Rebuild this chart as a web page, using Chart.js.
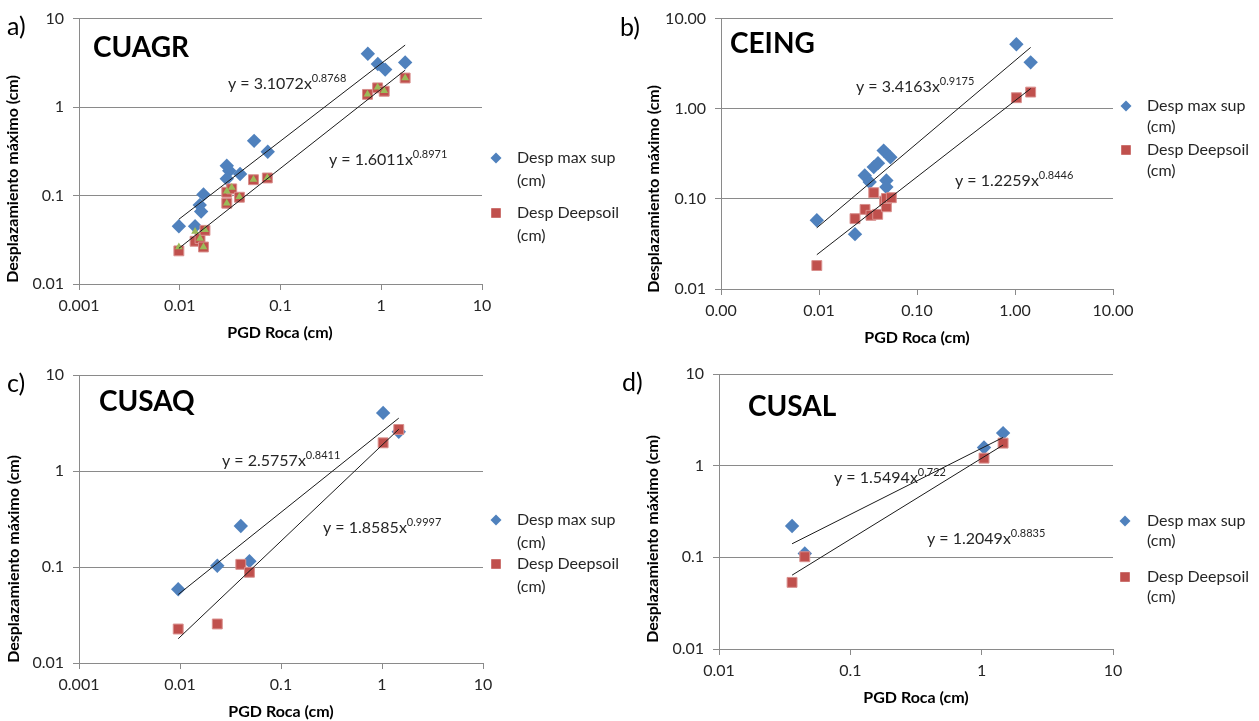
<!DOCTYPE html>
<html><head><meta charset="utf-8">
<script src="https://cdn.jsdelivr.net/npm/chart.js@4/dist/chart.umd.min.js"></script>
<style>
html,body{margin:0;padding:0;background:#fff;width:1259px;height:721px;overflow:hidden;}
canvas{position:absolute;}
</style></head><body>
<canvas id="ca" width="630" height="350" style="left:0;top:0"></canvas>
<canvas id="cb" width="659" height="350" style="left:600px;top:0"></canvas>
<canvas id="cc" width="630" height="366" style="left:0;top:355px"></canvas>
<canvas id="cd" width="659" height="366" style="left:600px;top:355px"></canvas>
<script>
// ---- tick values / labels ----
const ticksDecA = [0.001, 0.01, 0.1, 1, 10];
const ticksDecA_lbl = ['0.001', '0.01', '0.1', '1', '10'];
const ticksDecB_lbl = ['0.00', '0.01', '0.10', '1.00', '10.00'];
const ticksDecY = [0.01, 0.1, 1, 10];
const ticksDecY_lbl = ['0.01', '0.1', '1', '10'];
const ticksDecYB_lbl = ['0.01', '0.10', '1.00', '10.00'];
const ticksDecD = [0.01, 0.1, 1, 10];
const ticksDecD_lbl = ['0.01', '0.1', '1', '10'];

const seriesNames = ['Desp max sup', 'Desp Deepsoil'];

// ---- a) CUAGR ----
const cuagrSup = [[0.0098,0.045],[0.0142,0.045],[0.0158,0.078],[0.0163,0.066],[0.0172,0.103],[0.0293,0.217],[0.031,0.19],[0.0293,0.155],[0.0397,0.175],[0.0547,0.415],[0.0747,0.312],[0.736,4.01],[0.925,3.07],[1.094,2.65],[1.727,3.2]];
const cuagrDeep = [[0.0098,0.0237],[0.0142,0.0304],[0.0159,0.0326],[0.0178,0.0404],[0.0172,0.0262],[0.0293,0.109],[0.0328,0.119],[0.0293,0.0819],[0.0391,0.0957],[0.0539,0.151],[0.074,0.158],[0.73,1.39],[0.92,1.65],[1.07,1.51],[1.727,2.13]];
const cuagrTri = [[0.0098,0.0262],[0.0142,0.0392],[0.0159,0.0326],[0.0178,0.0411],[0.0172,0.0262],[0.0293,0.112],[0.0328,0.123],[0.0293,0.082],[0.0391,0.097],[0.0539,0.152],[0.074,0.159],[0.73,1.4],[0.92,1.67],[1.07,1.53],[1.727,2.13]];
const cuagrSupTrend = [[0.0098,0.0539],[1.727,5.02]];
const cuagrDeepTrend = [[0.0098,0.0253],[1.727,2.614]];

// ---- b) CEING ----
const ceingSup = [[0.0095,0.058],[0.0233,0.0406],[0.0293,0.182],[0.0329,0.154],[0.0362,0.225],[0.040,0.249],[0.0457,0.343],[0.0535,0.29],[0.0487,0.16],[0.0487,0.135],[1.033,5.2],[1.445,3.27]];
const ceingDeep = [[0.0095,0.0182],[0.0233,0.0603],[0.0295,0.0764],[0.0339,0.0657],[0.0397,0.0673],[0.0362,0.117],[0.0468,0.0944],[0.0487,0.0817],[0.0487,0.101],[0.0547,0.103],[1.033,1.325],[1.445,1.53]];
const ceingSupTrend = [[0.0095,0.0477],[1.445,4.79]];
const ceingDeepTrend = [[0.0095,0.024],[1.445,1.673]];

// ---- c) CUSAQ ----
const cusaqSup = [[0.0096,0.0586],[0.0234,0.103],[0.04,0.267],[0.0487,0.115],[1.026,4.03],[1.466,2.56]];
const cusaqDeep = [[0.0096,0.0226],[0.0234,0.0255],[0.04,0.1066],[0.0487,0.0881],[1.026,1.965],[1.466,2.71]];
const cusaqSupTrend = [[0.0096,0.0517],[1.466,3.553]];
const cusaqDeepTrend = [[0.0096,0.0179],[1.466,2.724]];

// ---- d) CUSAL ----
const cusalSup = [[0.036,0.22],[0.045,0.11],[1.042,1.58],[1.456,2.265]];
const cusalDeep = [[0.036,0.0533],[0.045,0.1015],[1.042,1.208],[1.456,1.762]];
const cusalSupTrend = [[0.036,0.1405],[1.456,2.032]];
const cusalDeepTrend = [[0.036,0.0639],[1.456,1.679]];

const BLUE = '#4F81BD', RED = '#C0504D', GREEN = '#9BBB59';
const TXT = '#262626', GRID = '#8a8a8a';

const pts = a => a.map(p => ({x: p[0], y: p[1]}));

function drawMarker(ctx, kind, x, y, r, color) {
  ctx.save();
  ctx.fillStyle = color;
  ctx.beginPath();
  if (kind === 'diamond') {
    ctx.moveTo(x, y - r); ctx.lineTo(x + r, y); ctx.lineTo(x, y + r); ctx.lineTo(x - r, y);
  } else {
    ctx.rect(x - r, y - r, 2 * r, 2 * r);
  }
  ctx.closePath(); ctx.fill();
  ctx.restore();
}

const decor = {
  id: 'decor',
  afterDraw(chart, args, o) {
    const ctx = chart.ctx;
    const ox = o.ox, oy = o.oy;
    ctx.save();
    ctx.textBaseline = 'middle';
    // panel label
    ctx.fillStyle = '#000';
    ctx.textAlign = 'left';
    ctx.font = '25px Lato';
    ctx.fillText(o.label[0], o.label[1] - ox, o.label[2] - oy);
    // station
    ctx.font = 'bold 28px Lato';
    ctx.fillText(o.station[0], o.station[1] - ox, o.station[2] - oy);
    // equations
    o.eqs.forEach(e => {
      ctx.fillStyle = TXT;
      ctx.font = '16px Lato';
      ctx.fillText(e[0], e[2] - ox, e[3] - oy);
      const w = ctx.measureText(e[0]).width;
      ctx.font = '11px Lato';
      ctx.fillText(e[1], e[2] - ox + w, e[3] - oy - 6);
    });
    // axis titles
    ctx.fillStyle = '#000';
    ctx.font = 'bold 16px Lato';
    ctx.textAlign = 'center';
    ctx.fillText('PGD Roca (cm)', o.xTitle[0] - ox, o.xTitle[1] - oy);
    ctx.save();
    ctx.translate(o.yTitle[0] - ox, o.yTitle[1] - oy);
    ctx.rotate(-Math.PI / 2);
    ctx.fillText('Desplazamiento máximo (cm)', 0, 0);
    ctx.restore();
    // legend
    ctx.textAlign = 'left';
    ctx.font = '16px Lato';
    const lg = o.legend;
    const kinds = ['diamond', 'square'];
    const cols = [BLUE, RED];
    const rs = [5.5, 4.8];
    lg.ys.forEach((yy, i) => {
      drawMarker(ctx, kinds[i], lg.mx - ox, yy - oy, rs[i], cols[i]);
      ctx.fillStyle = TXT;
      ctx.fillText(seriesNames[i], lg.tx - ox, yy - oy);
      ctx.fillText('(cm)', lg.tx - ox, yy - oy + lg.gap);
    });
    ctx.restore();
  }
};

function makePanel(id, g, xt, xl, yl, sets, deco) {
  const datasets = [
    {data: pts(sets.sup), pointStyle: 'rectRot', pointRadius: 7.2, backgroundColor: BLUE, borderColor: BLUE, borderWidth: 0, showLine: false, order: 4},
    {data: pts(sets.deep), pointStyle: 'rect', pointRadius: 7, backgroundColor: RED, borderColor: '#d9908e', borderWidth: 1, showLine: false, order: 3},
  ];
  if (sets.tri) datasets.push({data: pts(sets.tri), pointStyle: 'triangle', pointRadius: 4.5, backgroundColor: GREEN, borderColor: GREEN, borderWidth: 0, showLine: false, order: 2});
  datasets.push({data: pts(sets.supTrend), showLine: true, pointRadius: 0, borderColor: '#1a1a1a', borderWidth: 1, order: 1});
  datasets.push({data: pts(sets.deepTrend), showLine: true, pointRadius: 0, borderColor: '#1a1a1a', borderWidth: 1, order: 1});

  new Chart(document.getElementById(id), {
    type: 'scatter',
    data: {datasets},
    options: {
      responsive: false, animation: false, events: [],
      layout: {padding: {left: 0, right: g.W - g.R, top: g.T, bottom: 0}},
      scales: {
        x: {
          type: 'logarithmic', min: xt[0], max: xt[xt.length - 1],
          afterFit: s => { s.height = g.H - g.B; },
          afterBuildTicks: s => { s.ticks = xt.map(v => ({value: v})); },
          ticks: {callback: (v, i) => xl[i], font: {family: 'Lato', size: 16}, color: TXT, padding: 6, autoSkip: false, maxRotation: 0},
          grid: {drawOnChartArea: false, drawTicks: true, tickLength: 6, color: GRID},
          border: {display: true, color: GRID}
        },
        y: {
          type: 'logarithmic', min: ticksDecY[0], max: ticksDecY[ticksDecY.length - 1],
          afterFit: s => { s.width = g.L; },
          afterBuildTicks: s => { s.ticks = ticksDecY.map(v => ({value: v})); },
          ticks: {callback: (v, i) => yl[i], font: {family: 'Lato', size: 16}, color: TXT, padding: 9, autoSkip: false},
          grid: {drawTicks: true, tickLength: 6, color: GRID},
          border: {display: true, color: GRID}
        }
      },
      plugins: {legend: {display: false}, tooltip: {enabled: false}, decor: Object.assign({ox: g.ox, oy: g.oy}, deco)}
    },
    plugins: [decor]
  });
}

makePanel('ca', {W: 630, H: 350, L: 79, R: 482, T: 17, B: 284, ox: 0, oy: 0}, ticksDecA, ticksDecA_lbl, ticksDecY_lbl,
  {sup: cuagrSup, deep: cuagrDeep, tri: cuagrTri, supTrend: cuagrSupTrend, deepTrend: cuagrDeepTrend},
  {label: ['a)', 7, 27], station: ['CUAGR', 93, 48], eqs: [['y = 3.1072x', '0.8768', 228, 84], ['y = 1.6011x', '0.8971', 329, 160]],
   xTitle: [280, 333], yTitle: [13, 179], legend: {mx: 496, tx: 517, ys: [158, 213], gap: 23}});

makePanel('cb', {W: 659, H: 350, L: 121, R: 513, T: 17, B: 289, ox: 600, oy: 0}, ticksDecA, ticksDecB_lbl, ticksDecYB_lbl,
  {sup: ceingSup, deep: ceingDeep, supTrend: ceingSupTrend, deepTrend: ceingDeepTrend},
  {label: ['b)', 620, 28], station: ['CEING', 730, 44], eqs: [['y = 3.4163x', '0.9175', 856, 87], ['y = 1.2259x', '0.8446', 955, 181]],
   xTitle: [917, 338], yTitle: [654, 189], legend: {mx: 1126, tx: 1147, ys: [106, 150], gap: 21}});

makePanel('cc', {W: 630, H: 366, L: 79, R: 483, T: 20, B: 308, ox: 0, oy: 355}, ticksDecA, ticksDecA_lbl, ticksDecY_lbl,
  {sup: cusaqSup, deep: cusaqDeep, supTrend: cusaqSupTrend, deepTrend: cusaqDeepTrend},
  {label: ['c)', 7, 384], station: ['CUSAQ', 99, 402], eqs: [['y = 2.5757x', '0.8411', 222, 461], ['y = 1.8585x', '0.9997', 323, 528]],
   xTitle: [281, 712], yTitle: [14, 559], legend: {mx: 496, tx: 517, ys: [520, 564], gap: 23}});

makePanel('cd', {W: 659, H: 366, L: 119, R: 513, T: 19, B: 294, ox: 600, oy: 355}, ticksDecD, ticksDecD_lbl, ticksDecY_lbl,
  {sup: cusalSup, deep: cusalDeep, supTrend: cusalSupTrend, deepTrend: cusalDeepTrend},
  {label: ['d)', 622, 383], station: ['CUSAL', 748, 407], eqs: [['y = 1.5494x', '0.722', 834, 478], ['y = 1.2049x', '0.8835', 927, 539]],
   xTitle: [916, 698], yTitle: [653, 539], legend: {mx: 1125, tx: 1147, ys: [521, 577], gap: 20}});
</script>
</body></html>
